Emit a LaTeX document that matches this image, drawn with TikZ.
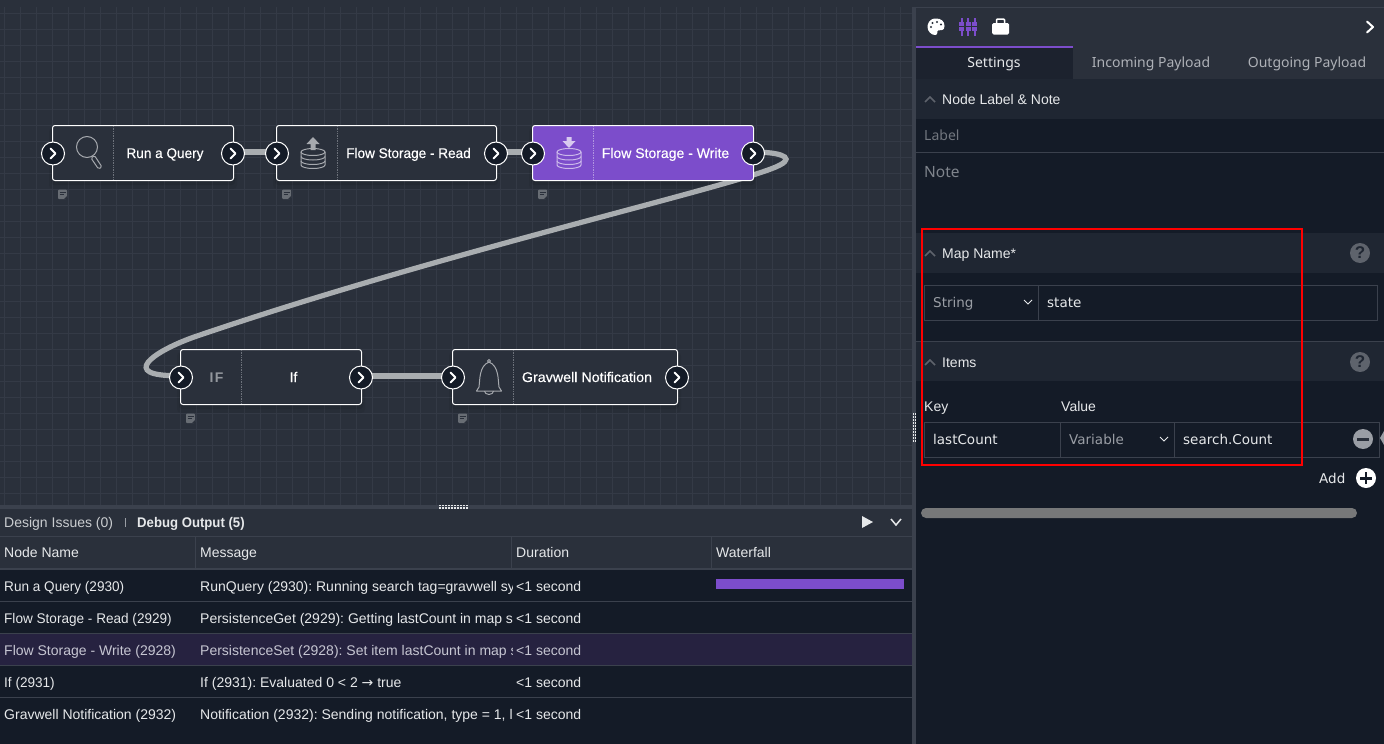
\documentclass[tikz,border=0pt]{standalone}
\usepackage{fontspec}
\setmainfont{Liberation Sans}
\newfontfamily\pf{Noto Sans}
\newfontfamily\df{DejaVu Sans}
\newfontfamily\nf{Liberation Sans}[FakeBold=0.25,FakeStretch=0.97]
\newfontfamily\nfm{Liberation Sans}[FakeBold=0.25,FakeStretch=1.0]
\newfontfamily\nfw{Liberation Sans}[FakeBold=0.25,FakeStretch=1.02]
\newfontfamily\rb{Liberation Sans}[FakeStretch=0.94]
\newfontfamily\rn{Liberation Sans}[FakeStretch=0.97]
\usetikzlibrary{calc}
\pgfdeclarelayer{under}
\pgfdeclarelayer{wires}
\pgfsetlayers{under,wires,main}
\definecolor{bgc}{HTML}{2A303B}
\definecolor{gridc}{HTML}{343A46}
\definecolor{darkc}{HTML}{141B27}
\definecolor{midc}{HTML}{1F2632}
\definecolor{tabc}{HTML}{1C222E}
\definecolor{sepc}{HTML}{3B414D}
\definecolor{purp}{HTML}{7C4DCB}
\definecolor{wire}{HTML}{A9ADB0}
\definecolor{txt}{HTML}{E6E8EA}
\definecolor{dim}{HTML}{9A9EA5}
\definecolor{iconc}{HTML}{A6A9AE}
\definecolor{helpc}{HTML}{5E636C}
\definecolor{hl}{HTML}{262240}
\definecolor{hltxt}{HTML}{C6C6D2}
\tikzset{x=1pt,y=-1pt,
 flow/.style={draw=white,line width=1pt,rounded corners=2.5pt,fill=bgc,minimum height=55pt,anchor=north west,inner sep=0pt},
 port/.style={circle,draw=white,line width=1pt,fill=darkc,minimum size=23pt,inner sep=0pt},
 wirel/.style={draw=wire,line width=5.2pt},
 ntext/.style={text=white,font=\nf\frenchspacing\fontsize{14}{16}\selectfont,inner sep=0pt,anchor=base},
 ttext/.style={text=txt,font=\frenchspacing\fontsize{14}{16}\selectfont,inner sep=0pt,anchor=base west},
 rtext/.style={text=txt,font=\rn\frenchspacing\fontsize{14}{16}\selectfont,inner sep=0pt,anchor=base west},
 ptext/.style={text=txt,font=\pf\fontsize{14}{16}\selectfont,inner sep=0pt,anchor=base west},
 itext/.style={text=txt,font=\df\fontsize{13.5}{16}\selectfont,inner sep=0pt,anchor=base west},
 ictext/.style={text=dim,font=\df\fontsize{13.5}{16}\selectfont,inner sep=0pt,anchor=base west},
 chev/.style={draw=white,line width=2pt,line cap=round,line join=round},
 secchev/.style={draw=helpc,line width=1.5pt},
 nodesep/.style={draw=dim!60!bgc,line width=.7pt,densely dotted},
}
\newcommand{\portchev}[1]{\draw[chev] ($(#1)+(-2.5,-5)$) -- ($(#1)+(2.5,0)$) -- ($(#1)+(-2.5,5)$);}
\newcommand{\noteicon}[3]{\fill[fill=#3,rounded corners=1pt] (#1,#2) rectangle +(9,9.5);
  \draw[bgc,line width=.8pt] (#1+1.5,#2+2.5) -- +(6,0) (#1+1.5,#2+5) -- +(4,0);
  \fill[bgc] (#1+9.2,#2+6.5) -- (#1+9.2,#2+9.7) -- (#1+6,#2+9.7) -- cycle;}
\newcommand{\dbicon}[3]{% x, y of top, colour
  \begin{scope}[shift={(#1,#2)},line width=1pt]
  \draw[#3] (-12,0) arc[start angle=180,end angle=360,x radius=12,y radius=-3.5] arc[start angle=0,end angle=180,x radius=12,y radius=-3.5];
  \draw[#3] (-12,0) -- (-12,13) arc[start angle=180,end angle=360,x radius=12,y radius=-3.5] -- (12,0);
  \draw[#3] (-12,4.5) arc[start angle=180,end angle=360,x radius=12,y radius=-3.5];
  \draw[#3] (-12,9) arc[start angle=180,end angle=360,x radius=12,y radius=-3.5];
  \end{scope}}
\begin{document}
\begin{tikzpicture}
\useasboundingbox (0,0) rectangle (1384,744);
\begin{pgfonlayer}{under}
\fill[bgc] (0,0) rectangle (1384,744);
% canvas grid
\begin{scope}
\clip (0,7) rectangle (912,505);
\foreach \i in {0,...,56}{\draw[gridc,line width=1pt] (4+16*\i,7) -- (4+16*\i,505);}
\foreach \i in {0,...,30}{\draw[gridc,line width=1pt] (0,13+16*\i) -- (912,13+16*\i);}
\end{scope}
% node shadows
\foreach \a/\b/\c/\d in {52/125/234/181,276/125/497/181,532/125/754/181,180/349/362/405,452/349/678/405}{
 \fill[black,opacity=.06,rounded corners=4pt] (\a-3,\b+3) rectangle (\c+3,\d+8);
 \fill[black,opacity=.08,rounded corners=3pt] (\a-1,\b+3) rectangle (\c+1,\d+4);
}
\end{pgfonlayer}
% flow nodes
\node[flow,minimum width=181pt] (n1) at (52,125) {};
\node[flow,minimum width=220pt] (n2) at (276,125) {};
\node[flow,minimum width=221pt,fill=purp] (n3) at (532,125) {};
\node[flow,minimum width=181pt] (n4) at (180,349) {};
\node[flow,minimum width=225pt] (n5) at (452,349) {};
% port nodes
\node[port] (p1i) at (53,153.5) {};
\node[port] (p1o) at (233,153.5) {};
\node[port] (p2i) at (277,153.5) {};
\node[port] (p2o) at (496,153.5) {};
\node[port] (p3i) at (533,153.5) {};
\node[port] (p3o) at (753,153.5) {};
\node[port] (p4i) at (181,377.5) {};
\node[port] (p4o) at (361,377.5) {};
\node[port] (p5i) at (453,377.5) {};
\node[port] (p5o) at (677,377.5) {};
% connectors, beneath nodes and ports
\begin{pgfonlayer}{wires}
\draw[wirel] ([yshift=1.5pt]p1o.center) -- ([yshift=1.5pt]p2i.center);
\draw[wirel] ([yshift=1.5pt]p2o.center) -- ([yshift=1.5pt]p3i.center);
\draw[wirel] ([yshift=1.5pt]p4o.center) -- ([yshift=1.5pt]p5i.center);
\draw[wirel] ([yshift=1.5pt]p3o.center) .. controls (775,152) and (797,156) .. (780,165) .. controls (745,184) and (450,250) .. (200,335) .. controls (160,348) and (120,373) .. (168,375.5) -- ([yshift=1.5pt]p4i.center);
\end{pgfonlayer}
% port chevrons
\foreach \p in {p1i,p1o,p2i,p2o,p3i,p3o,p4i,p4o,p5i,p5o}{
 \portchev{\p}
}
% separators
\foreach \x/\a/\b in {113/126/180,337/126/180,241/350/404,513/350/404}{
 \draw[nodesep] (\x.5,\a) -- (\x.5,\b);
}
\draw[nodesep,draw=white!40!purp] (593.5,126) -- (593.5,180);
% labels
\node[ntext] (l1) at (165,158) {Run a Query};
\node[ntext] (l2) at (408.5,158) {Flow Storage - Read};
\node[ntext,font=\nfm\frenchspacing\fontsize{14}{16}\selectfont] (l3) at (665.5,158) {Flow Storage - Write};
\node[ntext] (l4) at (293.5,382) {If};
\node[ntext,font=\nfw\frenchspacing\fontsize{14}{16}\selectfont] (l5) at (587,382) {Gravwell Notification};
\node[text=iconc!85!bgc,font=\bfseries\fontsize{14}{16}\selectfont,inner sep=0pt,anchor=base] (iff) at (216.5,382) {I\kern1.5pt F};
% search icon
\draw[iconc,line width=1pt] (87,147) circle[radius=10.5];
\draw[iconc,line width=1pt,rounded corners=1.5pt] (91,158) -- (94.5,155.5) -- (102,167) -- (98.5,169) -- cycle;
% db read
\dbicon{313}{152}{iconc}
\fill[iconc] (313,137) -- (319.5,144) -- (315.5,144) -- (315.5,150) -- (310.5,150) -- (310.5,144) -- (306.5,144) -- cycle;
% db write
\dbicon{569}{152}{white!60!purp}
\fill[white!70!purp] (569,148) -- (575.5,141) -- (571.5,141) -- (571.5,137) -- (566.5,137) -- (566.5,141) -- (562.5,141) -- cycle;
% bell
\draw[iconc,line width=1pt,line join=round] (476.5,391) -- (501.5,391) -- (499,387) .. controls (498,380) and (499,366) .. (489,362) .. controls (479,366) and (480,380) .. (479,387) -- cycle;
\draw[iconc,line width=1pt] (489,361) circle[radius=1.5];
\draw[iconc,line width=1pt] (484.5,391) arc[start angle=180,end angle=360,x radius=4.5,y radius=-3.5];
% note icons
\noteicon{58}{189.5}{iconc!50!bgc}
\noteicon{282}{189.5}{iconc!50!bgc}
\noteicon{538}{189.5}{iconc!50!bgc}
\noteicon{186}{413.5}{iconc!50!bgc}
\noteicon{458}{413.5}{iconc!50!bgc}
% bottom panel
\fill[sepc] (0,505) rectangle (912,509);
\foreach \i in {0,...,9}{\fill[txt] (439+3*\i,504.5) rectangle +(1.6,1.6); \fill[txt] (439+3*\i,507) rectangle +(1.6,1.6);}
\fill[bgc] (0,509) rectangle (912,537);
\node[ttext,text=txt!85!bgc] (tabA) at (4,527) {Design Issues (0)};
\draw[dim,line width=.8pt] (125.5,518) -- (125.5,527);
\node[ttext,font=\rb\bfseries\fontsize{14}{16}\selectfont] (tabB) at (137,527) {Debug Output (5)};
\fill[txt] (862,516) -- (873,522) -- (862,528) -- cycle;
\draw[txt,line width=1.5pt] (891,519) -- (896,525) -- (901,519);
% table header
\draw[sepc,line width=1pt] (0,536.5) -- (912,536.5);
\draw[sepc,line width=2pt] (0,569) -- (912,569);
\foreach \x in {195.5,511.5,711.5}{\draw[sepc,line width=1pt] (\x,537) -- (\x,568);}
\node[ttext] (h1) at (4,557) {Node Name};
\node[ttext] (h2) at (200,557) {Message};
\node[ttext] (h3) at (516,557) {Duration};
\node[ttext] (h4) at (716,557) {Waterfall};
% table body
\fill[darkc] (0,570) rectangle (912,744);
\fill[hl] (0,634) rectangle (912,666);
\foreach \y in {601.5,633.5,665.5,697.5}{\draw[sepc,line width=1pt] (0,\y) -- (912,\y);}
\fill[purp] (716,579) rectangle (904,589);
\begin{scope}
\clip (196,570) rectangle (512,744);
\node[ttext] (m1) at (200,591) {RunQuery (2930): Running search tag=gravwell sys};
\node[ttext] (m2) at (200,623) {PersistenceGet (2929): Getting lastCount in map s};
\node[ttext,text=hltxt] (m3) at (200,655) {PersistenceSet (2928): Set item lastCount in map s};
\node[ttext] (m4) at (200,687) {If (2931): Evaluated 0 < 2 {\df→} true};
\node[ttext] (m5) at (200,719) {Notification (2932): Sending notification, type = 1, l};
\end{scope}
\node[rtext] (r1) at (4,591) {Run a Query (2930)};
\node[rtext] (r2) at (4,623) {Flow Storage - Read (2929)};
\node[ttext,text=hltxt] (r3) at (4,655) {Flow Storage - Write (2928)};
\node[rtext] (r4) at (4,687) {If (2931)};
\node[ttext] (r5) at (4,719) {Gravwell Notification (2932)};
\foreach \y in {591,623,687,719}{\node[ttext] at (516,\y) {<1 second};}
\node[ttext,text=hltxt] (d3) at (516,655) {<1 second};
% dividers & right panel
\fill[sepc] (912,7) rectangle (916,744);
\foreach \i in {0,...,9}{\fill[txt] (912.5,413+3*\i) rectangle +(1.6,1.6); \fill[txt] (915,413+3*\i) rectangle +(1.6,1.6);}
\fill[darkc] (916,79) rectangle (1384,744);
\fill[bgc] (916,8) rectangle (1384,79);
\draw[sepc,line width=1pt] (912,7.5) -- (1384,7.5);
\fill[tabc] (916,48) rectangle (1073,79);
\fill[purp] (916,46) rectangle (1073,48);
\node[ptext,anchor=base,text=txt] (s1) at (994,67) {Settings};
\node[ptext,anchor=base,text=dim!80!white] (s2) at (1151,67) {Incoming Payload};
\node[ptext,anchor=base,text=dim!80!white] (s3) at (1307,67) {Outgoing Payload};
\draw[chev] (1367,21.5) -- (1373,27) -- (1367,32.5);
% palette
\fill[white] (936,18.5) .. controls (929,18.5) and (927.5,24) .. (927.5,27) .. controls (927.5,31) and (931,35) .. (935,35) .. controls (939,35) and (936,31) .. (938,30.5) .. controls (941,30) and (944.5,31) .. (944.5,26) .. controls (944.5,21) and (941,18.5) .. (936,18.5) -- cycle;
\foreach \x/\y in {931/27,932.5/23,937/22,941/24.5}{\fill[bgc] (\x,\y) circle[radius=1.1];}
% sliders
\foreach \x in {961.5,968,974.5}{
 \fill[purp] (\x-1,18) rectangle (\x+1,36);
 \fill[purp] (\x-2.5,22) rectangle (\x+2.5,31);
 \draw[bgc,line width=.6pt] (\x-2.5,26.5) -- (\x+2.5,26.5);
}
% briefcase
\fill[white,rounded corners=1.5pt] (992,23) rectangle (1009,34.5);
\draw[white,line width=1.5pt,rounded corners=1pt] (996.5,23) -- (996.5,19) -- (1004.5,19) -- (1004.5,23);
% sections
\fill[midc] (916,79) rectangle (1384,119);
\draw[secchev] (925,102) -- (930,97) -- (935,102);
\node[ttext] (sec1) at (942,104) {Node Label \& Note};
\node[ptext,text=dim!70!darkc] (lab) at (924,140) {Label};
\draw[sepc,line width=1pt] (916,152.5) -- (1384,152.5);
\node[ptext,text=dim!80!darkc,font=\pf\fontsize{15.5}{16}\selectfont] (not) at (924,177) {Note};
\fill[midc] (916,233) rectangle (1384,273);
\draw[secchev] (925,256) -- (930,251) -- (935,256);
\node[ttext] (sec2) at (942,258) {Map Name*};
\draw[sepc,line width=1pt] (924.5,285.5) rectangle (1377.5,320.5);
\draw[sepc,line width=1pt] (1038.5,285.5) -- (1038.5,320.5);
\node[ictext] (str) at (933,307) {String};
\draw[txt,line width=.8pt] (1024,300) -- (1028,304) -- (1032,300);
\node[itext] (st) at (1047,307) {state};
\draw[sepc,line width=1pt] (916,341.5) -- (1384,341.5);
\fill[midc] (916,342) rectangle (1384,381);
\draw[secchev] (925,365) -- (930,360) -- (935,365);
\node[ttext] (sec3) at (942,367) {Items};
\foreach \y in {253,362}{
 \fill[helpc] (1360,\y) circle[radius=10];
 \node[font=\bfseries\fontsize{17}{18}\selectfont,text=midc,inner sep=0pt] at (1360,\y) {?};
}
\node[ttext] (k) at (924,411) {Key};
\node[ttext] (v) at (1061,411) {Value};
\draw[sepc,line width=1pt] (924.5,422.5) rectangle (1379.5,457.5);
\draw[sepc,line width=1pt] (1060.5,422.5) -- (1060.5,457.5) (1174.5,422.5) -- (1174.5,457.5);
\node[itext] (kv) at (933,444) {lastCount};
\node[ictext] (vv) at (1069,444) {Variable};
\draw[txt,line width=.8pt] (1160,437) -- (1164,441) -- (1168,437);
\node[itext] (sc) at (1183,444) {search.Count};
\fill[dim] (1363,439) circle[radius=10];
\fill[bgc] (1357,438) rectangle (1369,440.5);
\fill[dim] (1384,431) -- (1380,438) -- (1384,445) -- cycle;
\node[itext] (ad) at (1319,483) {Add};
\fill[white] (1366,478) circle[radius=10];
\fill[darkc] (1360,477) rectangle (1372,479.5);
\fill[darkc] (1364.8,472) rectangle (1367.2,484);
\fill[black!50!white!90!bgc,rounded corners=5pt] (921,508) rectangle (1357,518);
% red box
\draw[red,line width=2pt] (922,229) rectangle (1302,465);
\end{tikzpicture}
\end{document}
